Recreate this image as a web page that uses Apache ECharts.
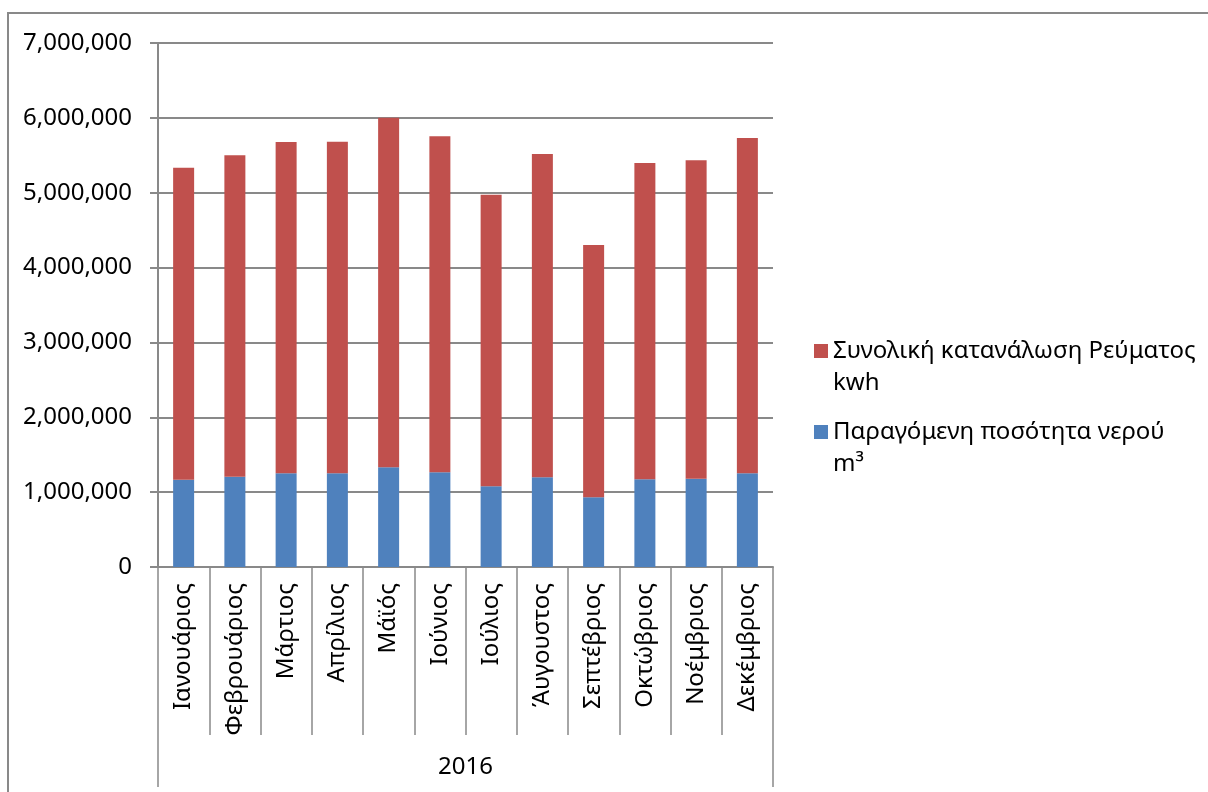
<!DOCTYPE html>
<html>
<head>
<meta charset="utf-8">
<title>2016</title>
<script src="https://cdn.jsdelivr.net/npm/echarts@6/dist/echarts.min.js"></script>
<style>
  html, body { margin: 0; padding: 0; background: #ffffff; }
  #chart { width: 1208px; height: 792px; }
</style>
</head>
<body>
<div id="chart"></div>
<script>
// Months of 2016
const months = ['Ιανουάριος', 'Φεβρουάριος', 'Μάρτιος', 'Απρίλιος', 'Μάϊός', 'Ιούνιος',
                'Ιούλιος', 'Άυγουστος', 'Σεπτέβριος', 'Οκτώβριος', 'Νοέμβριος', 'Δεκέμβριος'];
const yearLabel = ['2016'];

// Water produced per month (m³)
const waterName = 'Παραγόμενη ποσότητα νερού m³';
const waterValues = [1166000, 1206000, 1251000, 1251000, 1332000, 1265000,
                     1078000, 1198000, 931000, 1171000, 1180000, 1251000];

// Total electricity consumption per month (kwh)
const powerName = 'Συνολική κατανάλωση Ρεύματος kwh';
const powerValues = [4168000, 4294000, 4426000, 4431000, 4668000, 4489000,
                     3896000, 4319000, 3370000, 4226000, 4253000, 4480000];

// Legend texts, wrapped as two lines; a blank leading line keeps the
// first text line level with the legend swatch.
const legendText = {};
legendText[powerName] = ' \nΣυνολική κατανάλωση Ρεύματος\nkwh';
legendText[waterName] = ' \nΠαραγόμενη ποσότητα νερού\nm³';

const FONT = '"Noto Sans", "DejaVu Sans", sans-serif';
const GRAY = '#898989';
const FS = 24;

const chart = echarts.init(document.getElementById('chart'), null, { renderer: 'canvas' });

const legendBase = {
  orient: 'vertical',
  left: 814,
  padding: 0,
  itemWidth: 14,
  itemHeight: 14,
  icon: 'rect',
  formatter: name => legendText[name],
  textStyle: {
    fontFamily: FONT,
    fontSize: FS,
    color: '#000000',
    lineHeight: 32
  }
};

chart.setOption({
  animation: false,
  backgroundColor: '#ffffff',
  textStyle: { fontFamily: FONT },
  graphic: [{
    type: 'rect',
    shape: { x: 8, y: 13, width: 1230, height: 800 },
    style: { fill: 'none', stroke: GRAY, lineWidth: 2 },
    silent: true
  }],
  legend: [
    Object.assign({}, legendBase, { top: 303, data: [powerName] }),
    Object.assign({}, legendBase, { top: 384, data: [waterName] })
  ],
  grid: { left: 158, right: 435, top: 43, bottom: 225, containLabel: false },
  xAxis: [{
    type: 'category',
    data: months,
    position: 'bottom',
    boundaryGap: true,
    axisLine: { show: true, lineStyle: { color: GRAY, width: 2 } },
    axisTick: { show: true, alignWithLabel: false, interval: 0, length: 168,
                lineStyle: { color: GRAY, width: 1.5 } },
    axisLabel: { interval: 0, rotate: 90, margin: 16, fontSize: FS, color: '#000000',
                 fontFamily: FONT },
    splitLine: { show: false }
  }, {
    type: 'category',
    data: yearLabel,
    position: 'bottom',
    boundaryGap: true,
    axisLine: { show: false },
    axisTick: { show: true, alignWithLabel: false, length: 220,
                lineStyle: { color: GRAY, width: 1.5 } },
    axisLabel: { margin: 188, fontSize: FS, color: '#000000', fontFamily: FONT },
    splitLine: { show: false }
  }],
  yAxis: {
    type: 'value',
    min: 0,
    max: 7000000,
    interval: 1000000,
    axisLine: { show: true, lineStyle: { color: GRAY, width: 2 } },
    axisTick: { show: true, length: 8, lineStyle: { color: GRAY, width: 2 } },
    axisLabel: {
      margin: 26,
      fontSize: FS,
      color: '#000000',
      fontFamily: FONT,
      formatter: v => v.toLocaleString('en-US')
    },
    splitLine: { show: true, lineStyle: { color: GRAY, width: 2 } }
  },
  series: [{
    name: waterName,
    type: 'bar',
    stack: 'total',
    xAxisIndex: 0,
    barWidth: 21,
    itemStyle: { color: '#4F81BD' },
    data: waterValues
  }, {
    name: powerName,
    type: 'bar',
    stack: 'total',
    xAxisIndex: 0,
    barWidth: 21,
    itemStyle: { color: '#C0504D' },
    data: powerValues
  }]
});
</script>
</body>
</html>
